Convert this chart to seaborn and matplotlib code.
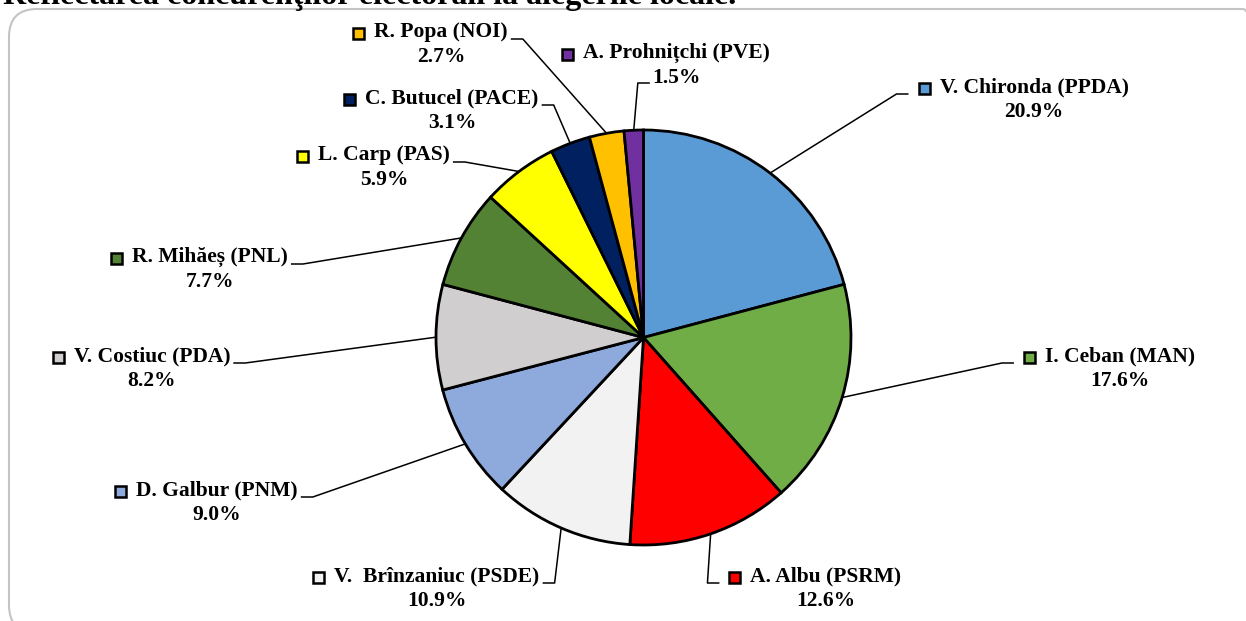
import numpy as np
import matplotlib.pyplot as plt
from matplotlib.patches import FancyBboxPatch, Rectangle
import seaborn as sns

# Data
candidates = ["V. Chironda (PPDA)", "I. Ceban (MAN)", "A. Albu (PSRM)",
              "V.  Brînzaniuc (PSDE)", "D. Galbur (PNM)", "V. Costiuc (PDA)",
              "R. Mihăeș (PNL)", "L. Carp (PAS)", "C. Butucel (PACE)",
              "R. Popa (NOI)", "A. Prohnițchi (PVE)"]
shares = [20.9, 17.6, 12.6, 10.9, 9.0, 8.2, 7.7, 5.9, 3.1, 2.7, 1.5]
colors = ["#5B9BD5", "#70AD47", "#FF0000", "#F2F2F2", "#8EA9DB", "#D0CECE",
          "#548235", "#FFFF00", "#002060", "#FFC000", "#7030A0"]
title = "Reflectarea concurenţilor electorali la alegerile locale."

# label layout (pixel positions, y from top)
label_x = [1034, 1120, 826, 437, 217, 152, 210, 384, 452, 441, 676]
label_y = [87, 356, 576, 576, 490, 356, 257, 155, 98, 32, 53]
attach_side = ["left", "left", "left", "right", "right", "right", "right",
               "right", "right", "right", "left"]
attach_line = [0, 0, 0, 0, 0, 0, 0, 0, 0, 0, 1]

sns.set_theme(style="white")
serif = ["Liberation Serif", "DejaVu Serif"]
plt.rcParams["font.family"] = serif

W, H = 1246, 621
fig = plt.figure(figsize=(W / 100, H / 100), dpi=100)
ax = fig.add_axes([0, 0, 1, 1])

cx, cy, r = 643.5, H - 337.5, 207.5
wedges, _ = ax.pie(shares, colors=colors, startangle=90, counterclock=False,
                   center=(cx, cy), radius=r,
                   wedgeprops=dict(edgecolor="black", linewidth=2))
ax.set_xlim(0, W)
ax.set_ylim(0, H)
ax.axis("off")

# frame and (cut off) title
frame = FancyBboxPatch((9, H - 633), 1262, 624,
                       boxstyle="round,pad=0,rounding_size=28",
                       fc="none", ec="#c4c4c4", lw=1.5, clip_on=False)
ax.add_patch(frame)
ax.text(3, H - 4, title, fontsize=23, fontweight="bold", ha="left",
        va="baseline", color="black")

fs = 15.5
gap = 25
name_txt, pct_txt = [], []
for i, name in enumerate(candidates):
    t1 = ax.text(label_x[i], H - label_y[i], name, ha="center", va="center",
                 fontsize=fs, fontweight="bold", color="black")
    t2 = ax.text(label_x[i], H - label_y[i] - gap, f"{shares[i]:.1f}%",
                 ha="center", va="center", fontsize=fs, fontweight="bold",
                 color="black")
    name_txt.append(t1)
    pct_txt.append(t2)

fig.canvas.draw()
rend = fig.canvas.get_renderer()

for i, w in enumerate(wedges):
    bb = name_txt[i].get_window_extent(rend)
    yc = H - label_y[i]
    sq = 11
    sq_x = bb.x0 - 10 - sq
    ax.add_patch(Rectangle((sq_x, yc - sq / 2 - 1), sq, sq, fc=colors[i],
                           ec="black", lw=1.8, zorder=5))

    # leader line
    theta = np.deg2rad((w.theta1 + w.theta2) / 2)
    ex, ey = cx + r * np.cos(theta), cy + r * np.sin(theta)
    if attach_side[i] == "left":
        if attach_line[i] == 0:
            end_x = sq_x - 10
            ly = yc - 7
        else:
            pb = pct_txt[i].get_window_extent(rend)
            end_x = pb.x0 - 2
            ly = yc - gap - 5
        elbow_x = end_x - 12
    else:
        end_x = bb.x1 + 3
        ly = yc - 7
        elbow_x = end_x + 12
    ax.plot([ex, elbow_x, end_x], [ey, ly, ly], color="black", lw=1.1,
            solid_capstyle="butt", zorder=1)

fig.savefig("out.png", dpi=100)
